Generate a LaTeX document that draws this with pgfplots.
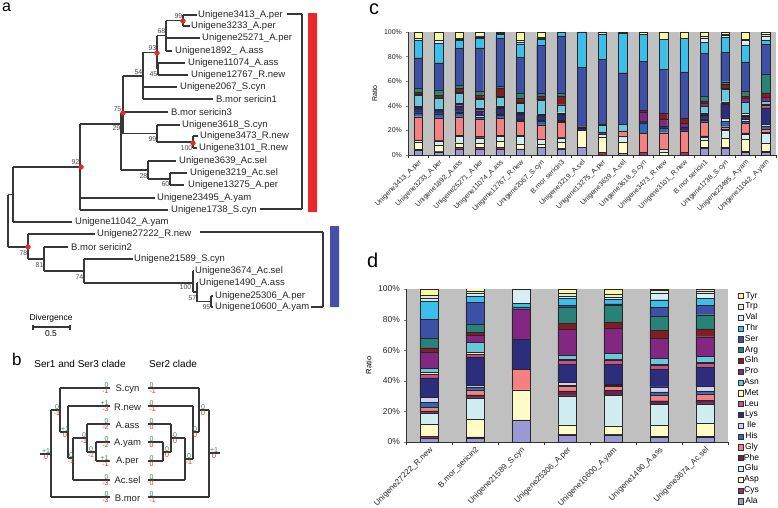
\documentclass[border=0pt]{standalone}
\usepackage{pgfplots}
\pgfplotsset{compat=1.18}
\usepackage{pgfplotstable}
\usepackage{fontspec}
\setmainfont{Liberation Sans}

\definecolor{cAla}{RGB}{153,153,214}
\definecolor{cCys}{RGB}{150,50,100}
\definecolor{cAsp}{RGB}{255,252,200}
\definecolor{cGlu}{RGB}{208,238,242}
\definecolor{cPhe}{RGB}{105,35,80}
\definecolor{cGly}{RGB}{245,128,128}
\definecolor{cHis}{RGB}{45,105,185}
\definecolor{cIle}{RGB}{210,210,240}
\definecolor{cLys}{RGB}{45,45,125}
\definecolor{cLeu}{RGB}{200,80,140}
\definecolor{cMet}{RGB}{255,255,180}
\definecolor{cAsn}{RGB}{105,200,220}
\definecolor{cPro}{RGB}{130,40,130}
\definecolor{cGln}{RGB}{130,30,35}
\definecolor{cArg}{RGB}{40,130,120}
\definecolor{cSer}{RGB}{60,80,165}
\definecolor{cThr}{RGB}{60,190,235}
\definecolor{cVal}{RGB}{215,238,245}
\definecolor{cTrp}{RGB}{222,240,212}
\definecolor{cTyr}{RGB}{255,248,160}
\definecolor{tline}{RGB}{55,55,55}
\definecolor{dotred}{RGB}{232,40,40}
\definecolor{gnum}{RGB}{40,140,90}
\definecolor{rnum}{RGB}{225,45,45}
\definecolor{plotgray}{RGB}{192,192,192}
\definecolor{barred}{RGB}{232,40,45}
\definecolor{barblue}{RGB}{70,80,170}

\pgfplotstableread{
x Ala Cys Asp Glu Phe Gly His Ile Lys Leu Met Asn Pro Gln Arg Ser Thr Val Trp Tyr
0 4 0.8 5.4 1.6 0.5 18.8 2.7 0.5 4 0.5 0.5 9.4 0.5 2 3.2 24.7 14.2 1.3 0 5.4
1 2.7 0.5 4.8 3.5 0.5 18.2 2.7 0.5 2.7 0.5 0.5 9.4 0.5 2 4 22 16 2 0.5 6.5
2 5 1 4 5 1 15 3 1 5 1 1 8 1 3 3 30 6 1 1 5
3 5 1 4 4 1 14 2 1 4 1 1 7 1 3 3 35 8 1 1 3
4 5 1 5 4 1 14 2 1 5 1 1 7 1 6 2 39 3 0 1 1
5 4.5 0.5 4 6 1 11.5 1 0.5 4.5 0.5 0.5 7.5 1 3.5 4 29 11 1.5 1 7
6 6 0.5 2 4 0.5 11.5 3 0.5 4 0.5 0.5 11.5 0.5 2.7 2.7 38.5 5.5 0.5 0.5 4.6
7 5 0.5 5 3.5 0.5 12 1 0.5 5.4 0.5 0.5 6 0.5 7 2 47 2.9 0 0.2 0
8 6 0 14 0 0 0 0 0 1.5 0 0 0 0 1.5 0 48 29 0 0 0
9 0 2 12.4 2.7 0 0 0 0 1.5 0 0 5.4 0 1 0 53 20.4 0 1.6 0
10 1.4 0 9.2 4.6 0 4.3 0 0 0 0 0 5.4 0 0 0 42 32.1 0 0 1
11 0 2 0 0 0 15.7 8.4 0 1.5 0 0 0 7.3 1.6 0 39.8 21.7 0 0 2
12 0 0 2.6 2 0 13.5 3.5 0 2 0 0 0 5.4 4.9 0 35.7 24.4 0 0 6
13 0 2 0 0 0 17.6 0 0 3.3 0 0 0 3.3 4 0 37.4 27 0 0 5.4
14 5.4 1 5.4 2.7 1 10.8 2 1 3 1 1 5 2.7 2 4 34.7 9 3.5 1 3.8
15 5.4 1 7.6 6 1 2 4.6 2 11.7 1 1 10.3 1 3 2 23.6 12.7 1.5 1 1.6
16 2 1 10 4 1 7.6 2 1.4 2.7 1 1 9 3.5 2 4 23.6 13.7 3.5 1 6
17 2.2 1 6.2 8.1 1 2.7 2 1.6 13.5 2 1 2.2 3.3 3.8 15 24.6 3.3 3.5 1 2
}\datac

\pgfplotstableread{
x Ala Cys Asp Glu Phe Gly His Ile Lys Leu Met Asn Pro Gln Arg Ser Thr Val Trp Tyr
0 2.6 1 8 7.5 1.3 2.2 3.3 3.3 12.7 2.6 1 2.6 10.5 2.9 6.2 12.5 12 2 2 3.8
1 2.4 1 11.5 13.9 2 3.3 2 1 18.5 2 1 6.5 4.4 2.2 5.4 14 4.4 2 1 2
2 14.4 0 19.6 0 0 13.5 0 0 19.6 0 0 0 20 0 1.3 0 2.2 9.4 0 0
3 4.6 0.5 6.1 18.9 3.3 3 0.5 2.2 11.5 2.8 0.5 2.8 16.8 3.9 10.5 1.5 4.4 1.7 1.7 2.8
4 4.6 0.5 5.4 20 3.3 2.6 0.5 1 13 2.8 0.5 3.7 16.6 3.9 10.9 1.1 2.8 1.5 2 3.3
5 3 0.5 7.6 13.5 2.4 3.3 2.4 3.3 11.4 2.8 0.5 3.9 13.3 5.2 9.2 5.7 5 4.3 1.7 1
6 3 0.5 8.6 12.8 2.2 4.4 1.7 3.3 12.3 2.8 0.5 3.9 12.8 5.2 9.2 6.1 4.6 3.3 1.7 1.1
}\datad

\tikzset{
  tl/.style={color=tline, line width=1.1pt},
  lbl/.style={anchor=west, inner sep=0pt, font=\fontsize{9.5}{10}\selectfont, text=black!85},
  bsl/.style={anchor=east, inner sep=0.5pt, font=\fontsize{7}{7}\selectfont, text=black!70},
  gn/.style={anchor=south, inner sep=0.3pt, font=\fontsize{7}{7}\selectfont, text=gnum},
  rn/.style={anchor=north, inner sep=0.3pt, font=\fontsize{7}{7}\selectfont, text=rnum},
  bl/.style={font=\fontsize{9.5}{10}\selectfont, inner sep=0pt, text=black!85},
}

\newcommand{\hl}[3]{\addplot[tl, no marks] coordinates {(#1,#3) (#2,#3)};}
\newcommand{\vl}[3]{\addplot[tl, no marks] coordinates {(#1,#2) (#1,#3)};}
\newcommand{\lf}[3]{\node[lbl] at (axis cs:#1,#2) {#3};}
\newcommand{\bs}[3]{\node[bsl] at (axis cs:#1,#2) {#3};}
\newcommand{\gr}[4]{\node[gn] at (axis cs:#1,#2) {#3};\node[rn] at (axis cs:#1,#2) {#4};}
\newcommand{\gl}[4]{\node[gn,anchor=south east] at (axis cs:#1,#2) {#3};\node[rn,anchor=north east] at (axis cs:#1,#2) {#4};}
\newcommand{\grr}[4]{\node[gn,anchor=south west] at (axis cs:#1,#2) {#3};\node[rn,anchor=north west] at (axis cs:#1,#2) {#4};}

\begin{document}
\begin{tikzpicture}
\useasboundingbox (0,0) rectangle (778pt,507pt);
% ---------------- panels a and b ----------------
\begin{axis}[at={(0pt,0pt)}, anchor=south west, width=778pt, height=507pt,
  scale only axis, xmin=0, xmax=778, ymin=0, ymax=507, y dir=reverse,
  hide axis, clip=false]
\node[anchor=north west, inner sep=0pt, font=\fontsize{16}{16}\selectfont] at (axis cs:2,3) {a};
% tree a
\vl{183}{15}{26} \hl{183}{197}{15} \hl{183}{190}{26}
\vl{166}{20.5}{51} \hl{166}{183}{20.5} \hl{166}{200}{38} \hl{166}{172}{51}
\vl{158}{63}{75} \hl{158}{185}{63} \hl{158}{188}{75}
\vl{157}{35.75}{69} \hl{157}{166}{35.75} \hl{157}{158}{69}
\vl{143}{52.4}{99} \hl{143}{157}{52.4} \hl{143}{177}{87} \hl{143}{213}{99}
\vl{193}{136}{148} \hl{193}{198}{136} \hl{193}{197}{148}
\vl{157}{125}{142} \hl{157}{180}{125} \hl{157}{193}{142}
\vl{123}{76}{133.5} \hl{123}{143}{76} \hl{123}{168}{112} \hl{123}{157}{133.5}
\vl{170}{173}{185} \hl{170}{187}{173} \hl{170}{184}{185}
\vl{148}{161}{179} \hl{148}{176}{161} \hl{148}{170}{179}
\vl{121}{113}{170} \hl{121}{123}{113} \hl{121}{148}{170}
\vl{80}{124}{210} \hl{80}{121}{124} \hl{80}{155}{198} \hl{80}{168}{210}
\vl{13}{167}{222} \hl{13}{80}{167} \hl{13}{72}{222}
\vl{8}{194.5}{247} \hl{8}{13}{194.5} \hl{8}{28}{247}
\vl{28}{234}{259} \hl{28}{95}{234} \hl{28}{44}{259}
\vl{44}{247}{271} \hl{44}{68}{247} \hl{44}{84}{271}
\vl{84}{259}{283} \hl{84}{133}{259} \hl{84}{193}{283}
\vl{193}{271}{292} \hl{193}{194}{271} \hl{193}{197}{292}
\vl{197}{283}{301.5} \hl{197}{198}{283} \hl{197}{211}{301.5}
\vl{211}{296}{307} \hl{211}{213}{296} \hl{211}{213}{307}
% brackets
\hl{287}{302}{14} \vl{302}{14}{209} \hl{260}{302}{209}
\hl{200}{323}{232} \vl{323}{232}{307} \hl{311}{323}{307}
\addplot[fill=barred, draw=none] coordinates {(308,13) (317,13) (317,212) (308,212) (308,13)};
\addplot[fill=barblue, draw=none] coordinates {(330,226) (339,226) (339,307) (330,307) (330,226)};
% red dots
\addplot[only marks, mark=*, mark size=2.4pt, color=dotred] coordinates {(183,21) (157,53) (123,113) (193,143) (81,167) (28,247)};
% leaf labels
\lf{198}{15}{Unigene3413\_A.per}
\lf{191}{26}{Unigene3233\_A.per}
\lf{202}{38}{Unigene25271\_A.per}
\lf{175}{51}{Unigene1892\_ A.ass}
\lf{188}{63}{Unigene11074\_A.ass}
\lf{191}{75}{Unigene12767\_R.new}
\lf{180}{87}{Unigene2067\_S.cyn}
\lf{216}{99}{B.mor sericin1}
\lf{171}{112}{B.mor sericin3}
\lf{182}{125}{Unigene3618\_S.cyn}
\lf{200}{136}{Unigene3473\_R.new}
\lf{199}{148}{Unigene3101\_R.new}
\lf{179}{161}{Unigene3639\_Ac.sel}
\lf{190}{173}{Unigene3219\_Ac.sel}
\lf{188}{185}{Unigene13275\_A.per}
\lf{157}{198}{Unigene23495\_A.yam}
\lf{171}{210}{Unigene1738\_S.cyn}
\lf{75}{222}{Unigene11042\_A.yam}
\lf{97}{234}{Unigene27222\_R.new}
\lf{71}{247}{B.mor sericin2}
\lf{134}{259}{Unigene21589\_S.cyn}
\lf{195}{271}{Unigene3674\_Ac.sel}
\lf{199}{283}{Unigene1490\_A.ass}
\lf{215}{296}{Unigene25306\_A.per}
\lf{215}{307}{Unigene10600\_A.yam}
% bootstrap
\bs{183}{16}{99} \bs{166}{31}{68} \bs{157}{48}{93} \bs{158}{74}{45}
\bs{143}{72}{54} \bs{122}{109}{75} \bs{121}{128}{29} \bs{157}{139}{99}
\bs{193}{148}{100} \bs{148}{176}{28} \bs{170}{184}{60} \bs{80}{162}{92}
\bs{28}{253}{78} \bs{44}{265}{81} \bs{84}{277}{74} \bs{192}{287}{100}
\bs{197}{298}{57} \bs{211}{307}{95}
% scale
\node[font=\fontsize{8.5}{9}\selectfont, inner sep=0pt] at (axis cs:51,318) {Divergence};
\hl{33}{70}{327} \vl{33}{324.5}{329.5} \vl{70}{324.5}{329.5}
\node[font=\fontsize{8.5}{9}\selectfont, inner sep=0pt] at (axis cs:51,334) {0.5};
% ---------------- panel b ----------------
\node[anchor=north west, inner sep=0pt, font=\fontsize{17}{17}\selectfont] at (axis cs:12,353) {b};
\node[font=\fontsize{10}{10}\selectfont, inner sep=0pt] at (axis cs:80,364) {Ser1 and Ser3 clade};
\node[font=\fontsize{10}{10}\selectfont, inner sep=0pt] at (axis cs:173,364) {Ser2 clade};
\node[bl] at (axis cs:127.5,389) {S.cyn};
\node[bl] at (axis cs:127.5,407) {R.new};
\node[bl] at (axis cs:127.5,425) {A.ass};
\node[bl] at (axis cs:127.5,443) {A.yam};
\node[bl] at (axis cs:127.5,461) {A.per};
\node[bl] at (axis cs:127.5,480) {Ac.sel};
\node[bl] at (axis cs:127.5,498) {B.mor};
% left tree
\hl{60}{110}{388} \hl{68}{110}{406} \hl{87}{110}{424} \hl{96}{110}{442}
\hl{96}{110}{461} \hl{73}{110}{480} \hl{51}{110}{497}
\vl{96}{442}{461} \hl{87}{96}{452}
\vl{87}{424}{452} \hl{73}{87}{438}
\vl{73}{438}{480} \hl{68}{73}{458}
\vl{68}{406}{458} \hl{60}{68}{432}
\vl{60}{388}{432} \hl{51}{60}{410}
\vl{51}{410}{497} \hl{40}{51}{454}
% right tree
\hl{148}{199}{388} \hl{148}{193}{406} \hl{148}{171}{424} \hl{148}{163}{442}
\hl{148}{163}{461} \hl{148}{185}{480} \hl{148}{209}{497}
\vl{163}{442}{461} \hl{163}{171}{452}
\vl{171}{424}{452} \hl{171}{185}{438}
\vl{185}{438}{480} \hl{185}{193}{459}
\vl{193}{406}{459} \hl{193}{199}{432}
\vl{199}{388}{432} \hl{199}{209}{410}
\vl{209}{410}{497} \hl{209}{220}{453}
% leaf numbers left
\gl{109}{388}{0}{-1} \gl{109}{406}{+1}{-3} \gl{109}{424}{0}{-2} \gl{109}{442}{0}{-2}
\gl{109}{461}{+1}{-1} \gl{109}{480}{0}{-3} \gl{109}{497}{0}{-3}
% leaf numbers right
\grr{149}{388}{0}{-1} \grr{149}{406}{0}{-1} \grr{149}{424}{0}{0} \grr{149}{442}{0}{0}
\grr{149}{461}{0}{0} \grr{149}{480}{0}{0} \grr{149}{497}{0}{-1}
% node numbers left
\gr{57}{410}{0}{-1} \gr{65}{432}{+1}{0} \gr{71}{458}{0}{-1} \gr{84}{438}{0}{-1}
\gr{91}{452}{0}{-1} \gr{46}{454}{+1}{0}
% node numbers right
\gr{203}{410}{0}{0} \gr{195}{432}{0}{0} \gr{189}{459}{0}{-1} \gr{175}{438}{0}{0}
\gr{167}{452}{0}{0} \gr{214}{453}{+1}{0}
% panel labels c, d
\node[anchor=north west, inner sep=0pt, font=\fontsize{20}{20}\selectfont] at (axis cs:369,4) {c};
\node[anchor=north west, inner sep=0pt, font=\fontsize{20}{20}\selectfont] at (axis cs:367,253) {d};
\end{axis}

% ---------------- panel c ----------------
\begin{axis}[at={(408pt,352pt)}, anchor=south west, width=368pt, height=123pt,
  scale only axis, ybar stacked, bar width=8.3pt,
  xmin=-0.5, xmax=17.5, ymin=0, ymax=100,
  axis background/.style={fill=plotgray},
  axis x line*=bottom, axis y line*=left,
  axis line style={black!80, line width=0.5pt},
  tick align=outside, major tick length=2.5pt, minor tick length=2.5pt,
  xtick={0,...,17}, major x tick style={draw=none},
  minor xtick={-0.5,0.5,...,17.5}, minor x tick style={black!80},
  xticklabels={Unigene3413\_A.per, Unigene3233\_A.per, Unigene1892\_A.ass, Unigene25271\_A.per, Unigene11074\_A.ass, Unigene12767\_R.new, Unigene2067\_S.cyn, B.mor sericin3, Unigene3219\_A.sel, Unigene13275\_A.per, Unigene3639\_A.sel, Unigene3618\_S.cyn, Unigene3473\_R.new, Unigene3101\_R.new, B.mor sericin1, Unigene1738\_S.cyn, Unigene23495\_A.yam, Unigene11042\_A.yam},
  x tick label style={rotate=45, anchor=north east, font=\fontsize{7}{7}\selectfont, inner sep=1pt, text=black!85},
  ytick={0,20,40,60,80,100}, yticklabels={0\%,20\%,40\%,60\%,80\%,100\%},
  y tick label style={font=\fontsize{7}{7}\selectfont, text=black!85},
  ylabel={Ratio}, ylabel style={font=\fontsize{7}{7}\selectfont},
  ]
\pgfplotsinvokeforeach{Ala,Cys,Asp,Glu,Phe,Gly,His,Ile,Lys,Leu,Met,Asn,Pro,Gln,Arg,Ser,Thr,Val,Trp,Tyr}{
  \addplot[fill=c#1, draw=black!85, line width=0.35pt] table[x=x, y=#1] {\datac};
}
\end{axis}

% ---------------- panel d ----------------
\begin{axis}[at={(406pt,65pt)}, anchor=south west, width=322pt, height=153pt,
  scale only axis, ybar stacked, bar width=18.3pt,
  xmin=-0.5, xmax=6.5, ymin=0, ymax=100,
  axis background/.style={fill=plotgray},
  axis x line*=bottom, axis y line*=left,
  axis line style={black!80, line width=0.5pt},
  tick align=outside, major tick length=2.5pt, minor tick length=2.5pt,
  xtick={0,...,6}, major x tick style={draw=none},
  minor xtick={-0.5,0.5,...,6.5}, minor x tick style={black!80},
  xticklabels={Unigene27222\_R.new, B.mor\_sericin2, Unigene21589\_S.cyn, Unigene25306\_A.per, Unigene10600\_A.yam, Unigene1490\_A.ass, Unigene3674\_Ac.sel},
  x tick label style={rotate=45, anchor=north east, font=\fontsize{8}{8}\selectfont, inner sep=1pt, text=black!85},
  ytick={0,20,40,60,80,100}, yticklabels={0\%,20\%,40\%,60\%,80\%,100\%},
  y tick label style={font=\fontsize{8.5}{8.5}\selectfont, text=black!85},
  ylabel={Ratio}, ylabel style={font=\fontsize{7.5}{7.5}\selectfont},
  reverse legend,
  legend style={at={(1.03,0.985)}, anchor=north west, draw=none, fill=none,
    font=\fontsize{8.5}{8.5}\selectfont, inner sep=0pt, row sep=1.8pt,
    nodes={inner sep=0.5pt, text height=6pt, text depth=2pt}},
  ]
\pgfplotsinvokeforeach{Ala,Cys,Asp,Glu,Phe,Gly,His,Ile,Lys,Leu,Met,Asn,Pro,Gln,Arg,Ser,Thr,Val,Trp,Tyr}{
  \addplot[fill=c#1, draw=black!85, line width=0.35pt,
    legend image code/.code={\draw[fill=c#1, draw=black!80, line width=0.4pt] (0pt,-2.6pt) rectangle (5.2pt,2.6pt);}] table[x=x, y=#1] {\datad};
  \addlegendentry{#1}
}
\end{axis}
\end{tikzpicture}
\end{document}
